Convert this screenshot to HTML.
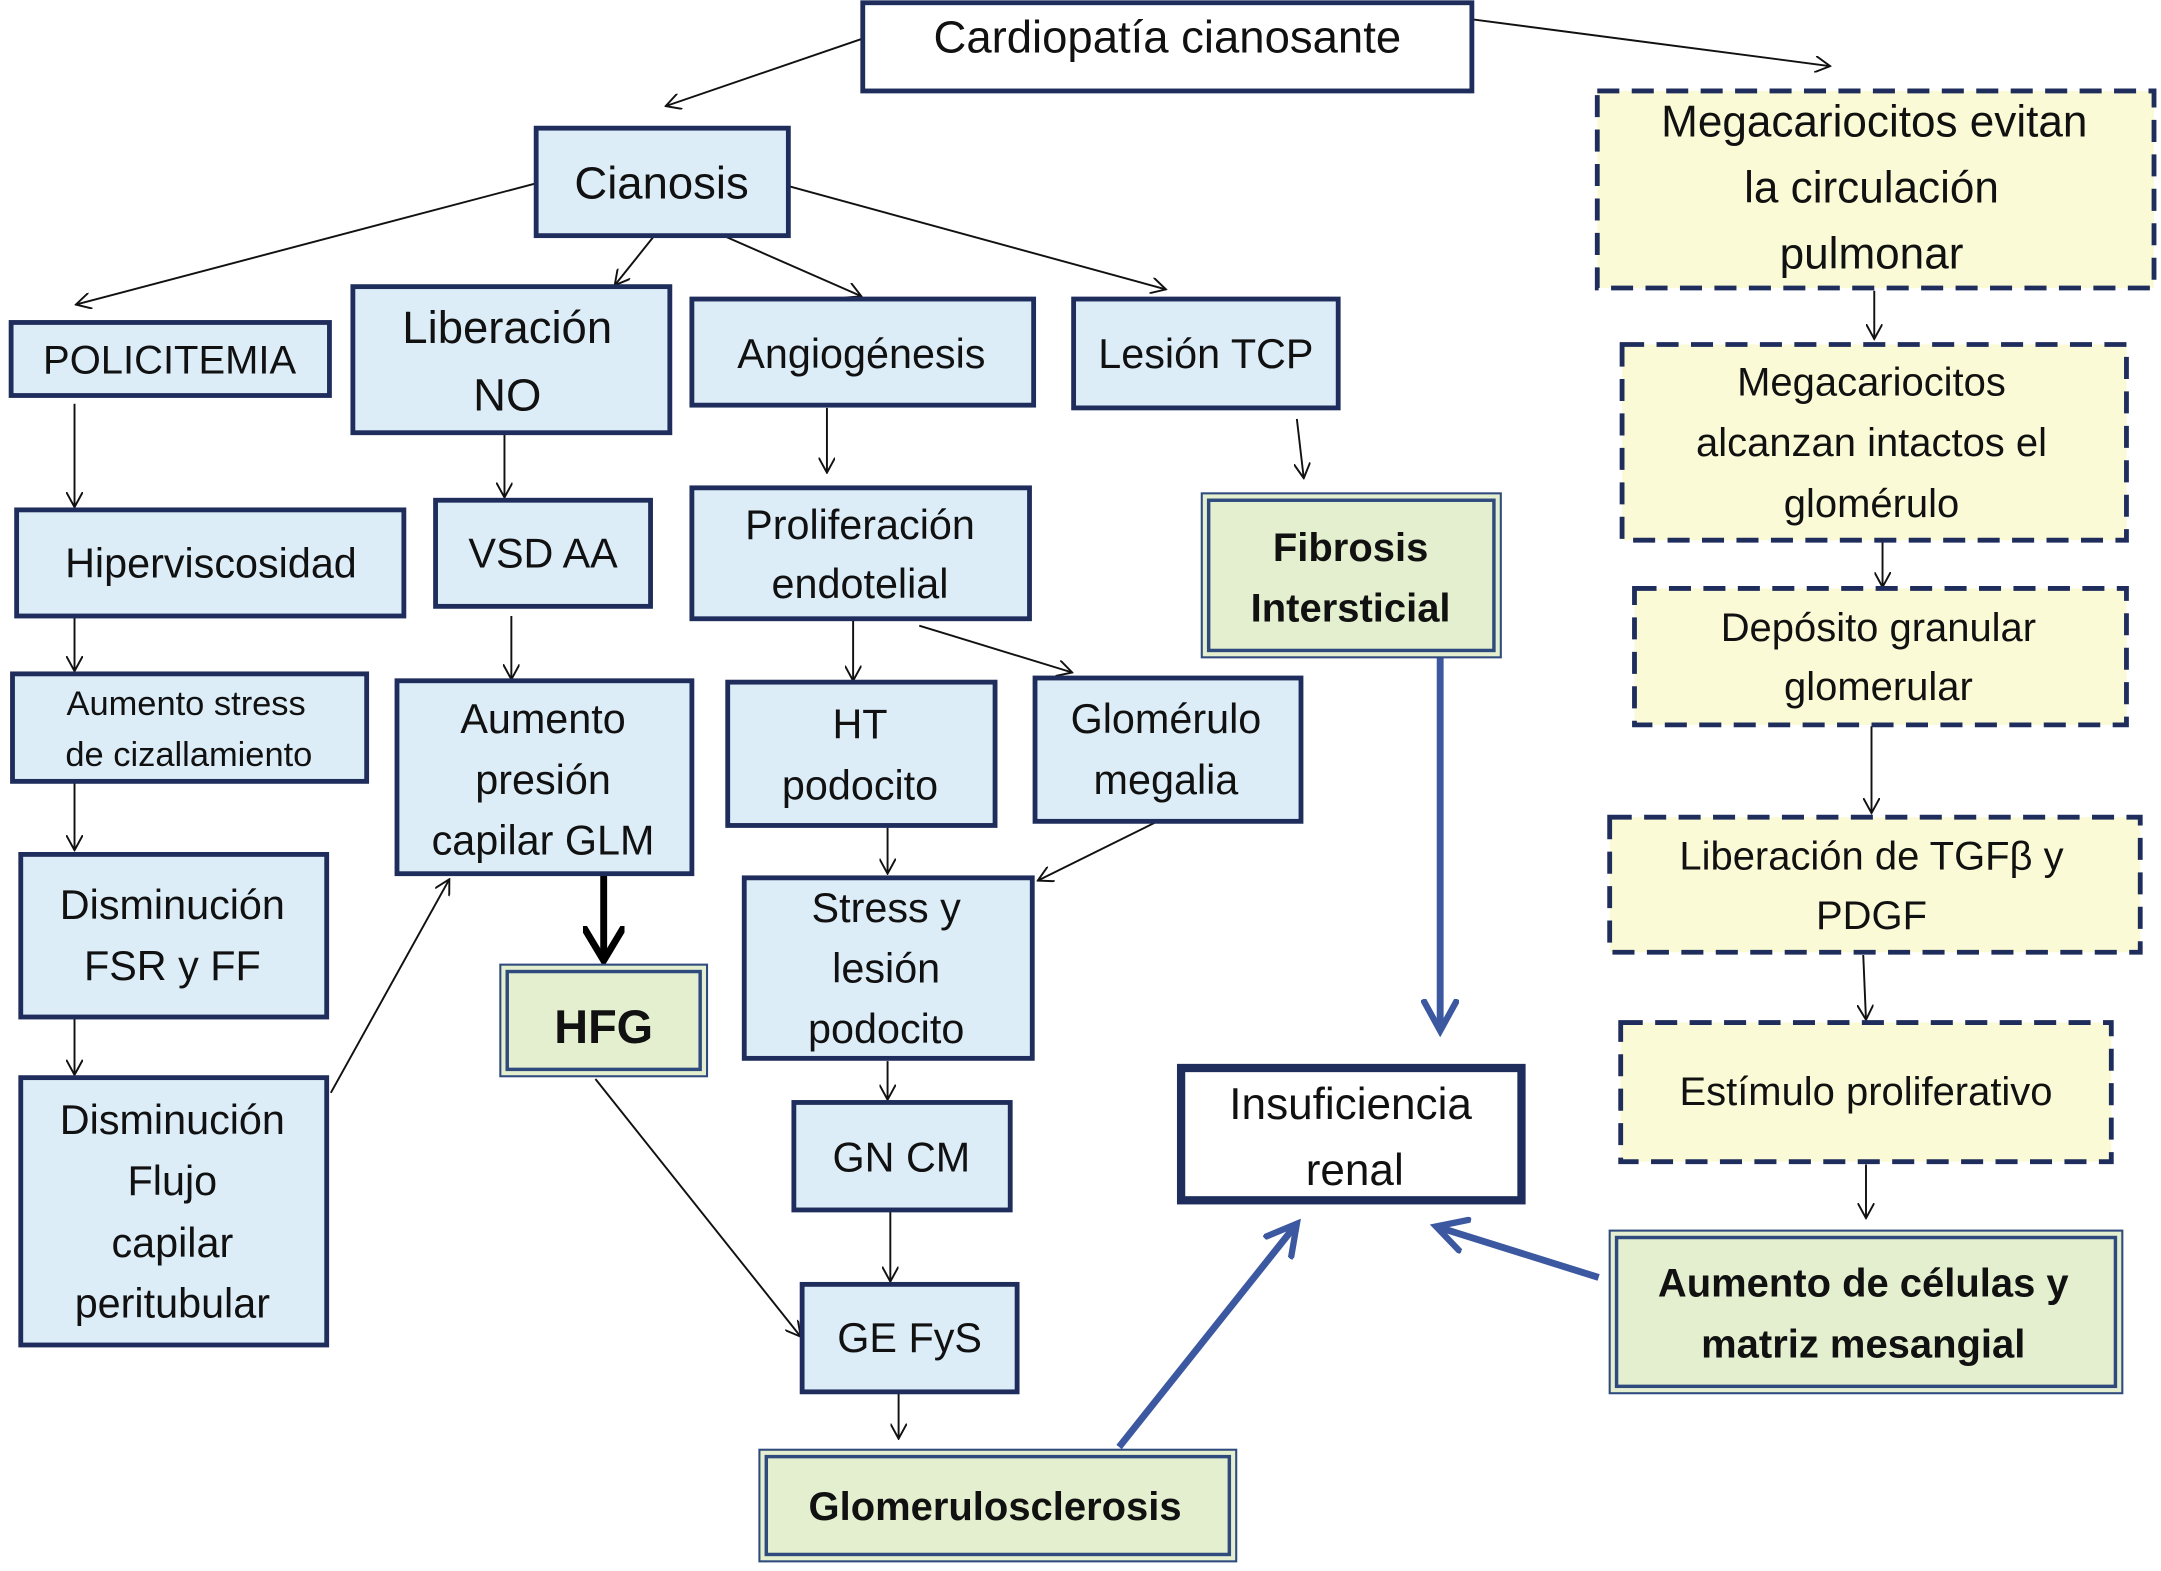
<!DOCTYPE html>
<html><head><meta charset="utf-8"><style>
html,body{margin:0;padding:0;background:#fff;}
svg{display:block;}
text{font-family:"Liberation Sans Narrow","Liberation Sans",sans-serif;fill:#111;text-anchor:middle;}
.b{fill:#dcedf8;stroke:#1f2d5c;stroke-width:3.5;}
.w{fill:#fff;stroke:#1f2d5c;stroke-width:3.5;}
.g{fill:#e3efcf;stroke:#2f4a7c;stroke-width:1.5;}
.y{fill:#fafad6;stroke:#1f2d5c;stroke-width:3.5;stroke-dasharray:16,9;}
.a{stroke:#111;stroke-width:1.4;fill:none;marker-end:url(#m);}
.bl{stroke:#3c58a0;stroke-width:5;fill:none;marker-end:url(#mb);}
.bt{font-weight:bold;}
</style></head><body>
<svg width="2161" height="1571" viewBox="0 0 1568 1140" xmlns="http://www.w3.org/2000/svg">
<defs>
<marker id="m" viewBox="0 0 12 12" refX="11" refY="6" markerWidth="12" markerHeight="12" markerUnits="userSpaceOnUse" orient="auto"><path d="M0,0 L11,6 L0,12" fill="none" stroke="#111" stroke-width="1.4"/></marker>
<marker id="mk" viewBox="0 0 12 12" refX="10" refY="6" markerWidth="6" markerHeight="6" orient="auto"><path d="M0,0 L10,6 L0,12" fill="none" stroke="#000" stroke-width="2"/></marker>
<marker id="mb" viewBox="0 0 12 12" refX="10" refY="6" markerWidth="5.5" markerHeight="5.5" orient="auto"><path d="M0,0.5 L10,6 L0,11.5" fill="none" stroke="#3c58a0" stroke-width="2"/></marker>
</defs>
<line class="a" x1="626" y1="28" x2="483" y2="77"/>
<line class="a" x1="1068" y1="14" x2="1328" y2="48"/>
<line class="a" x1="389" y1="133" x2="55" y2="221"/>
<line class="a" x1="474" y1="172" x2="446" y2="207"/>
<line class="a" x1="527" y1="172" x2="625" y2="215"/>
<line class="a" x1="572" y1="135" x2="846" y2="210"/>
<line class="a" x1="54" y1="293" x2="54" y2="368"/>
<line class="a" x1="366" y1="314" x2="366" y2="361"/>
<line class="a" x1="600" y1="296" x2="600" y2="343"/>
<line class="a" x1="941" y1="304" x2="946" y2="347"/>
<line class="a" x1="54" y1="447" x2="54" y2="487"/>
<line class="a" x1="371" y1="447" x2="371" y2="493"/>
<line class="a" x1="619" y1="449" x2="619" y2="494"/>
<line class="a" x1="667" y1="454" x2="778" y2="488"/>
<line class="a" x1="54" y1="567" x2="54" y2="617"/>
<line class="a" x1="54" y1="732" x2="54" y2="780"/>
<line class="a" x1="240" y1="793" x2="326" y2="638"/>
<line x1="438" y1="634" x2="438" y2="697" stroke="#000" stroke-width="5" marker-end="url(#mk)"/>
<line class="a" x1="644" y1="600" x2="644" y2="634"/>
<line class="a" x1="846" y1="593" x2="753" y2="639"/>
<line class="a" x1="644" y1="770" x2="644" y2="798"/>
<line class="a" x1="646" y1="878" x2="646" y2="930"/>
<line class="a" x1="432" y1="783" x2="581" y2="970"/>
<line class="a" x1="652" y1="1010" x2="652" y2="1044"/>
<line class="a" x1="1360" y1="211" x2="1360" y2="246"/>
<line class="a" x1="1366" y1="392" x2="1366" y2="426"/>
<line class="a" x1="1358" y1="527" x2="1358" y2="590"/>
<line class="a" x1="1352" y1="693" x2="1354" y2="740"/>
<line class="a" x1="1354" y1="845" x2="1354" y2="884"/>
<line class="bl" x1="1045" y1="477" x2="1045" y2="748"/>
<line class="bl" x1="812" y1="1050" x2="941" y2="888"/>
<line class="bl" x1="1160" y1="927" x2="1042" y2="890"/>

<rect class="w" x="626" y="2" width="442" height="64"/>
<text x="847" y="38" font-size="33">Cardiopatía  cianosante</text>

<rect class="b" x="389" y="93" width="183" height="78"/>
<text x="480" y="144" font-size="33">Cianosis</text>

<rect class="b" x="8" y="234" width="231" height="53"/>
<text x="123" y="271" font-size="29">POLICITEMIA</text>

<rect class="b" x="256" y="208" width="230" height="106"/>
<text x="368" y="249" font-size="33">Liberación</text>
<text x="368" y="298" font-size="33">NO</text>

<rect class="b" x="502" y="217" width="248" height="77"/>
<text x="625" y="267" font-size="30">Angiogénesis</text>

<rect class="b" x="779" y="217" width="192" height="79"/>
<text x="875" y="267" font-size="30">Lesión TCP</text>

<rect class="b" x="12" y="370" width="281" height="77"/>
<text x="153" y="419" font-size="30">Hiperviscosidad</text>

<rect class="b" x="316" y="363" width="156" height="77"/>
<text x="394" y="412" font-size="30">VSD AA</text>

<rect class="b" x="502" y="354" width="245" height="95"/>
<text x="624" y="391" font-size="30">Proliferación</text>
<text x="624" y="434" font-size="30">endotelial</text>

<rect class="g" x="872" y="358" width="217" height="119"/>
<rect x="877" y="363" width="207" height="109" fill="none" stroke="#2f4a7c" stroke-width="2.5"/>
<text class="bt" x="980" y="407" font-size="29">Fibrosis</text>
<text class="bt" x="980" y="451" font-size="29">Intersticial</text>

<rect class="b" x="9" y="489" width="257" height="78"/>
<text x="135" y="519" font-size="25">Aumento stress</text>
<text x="137" y="556" font-size="25">de  cizallamiento</text>

<rect class="b" x="288" y="494" width="214" height="140"/>
<text x="394" y="532" font-size="30">Aumento</text>
<text x="394" y="576" font-size="30">presión</text>
<text x="394" y="620" font-size="30">capilar GLM</text>

<rect class="b" x="528" y="495" width="194" height="104"/>
<text x="624" y="536" font-size="30">HT</text>
<text x="624" y="580" font-size="30">podocito</text>

<rect class="b" x="751" y="492" width="193" height="104"/>
<text x="846" y="532" font-size="30">Glomérulo</text>
<text x="846" y="576" font-size="30">megalia</text>

<rect class="b" x="15" y="620" width="222" height="118"/>
<text x="125" y="667" font-size="30">Disminución</text>
<text x="125" y="711" font-size="30">FSR y FF</text>

<rect class="g" x="363" y="700" width="150" height="81"/>
<rect x="368" y="705" width="140" height="71" fill="none" stroke="#2f4a7c" stroke-width="2.5"/>
<text class="bt" x="438" y="757" font-size="34">HFG</text>

<rect class="b" x="540" y="637" width="209" height="131"/>
<text x="643" y="669" font-size="30">Stress  y</text>
<text x="643" y="713" font-size="30">lesión</text>
<text x="643" y="757" font-size="30">podocito</text>

<rect class="b" x="15" y="782" width="222" height="194"/>
<text x="125" y="823" font-size="30">Disminución</text>
<text x="125" y="867" font-size="30">Flujo</text>
<text x="125" y="912" font-size="30">capilar</text>
<text x="125" y="956" font-size="30">peritubular</text>

<rect class="b" x="576" y="800" width="157" height="78"/>
<text x="654" y="850" font-size="30">GN CM</text>

<rect class="b" x="582" y="932" width="156" height="78"/>
<text x="660" y="981" font-size="30">GE FyS</text>

<rect class="g" x="551" y="1052" width="346" height="81"/>
<rect x="556" y="1057" width="336" height="71" fill="none" stroke="#2f4a7c" stroke-width="2.5"/>
<text class="bt" x="722" y="1103" font-size="29">Glomerulosclerosis</text>

<rect x="857" y="775" width="247" height="96" fill="#fff" stroke="#1f2d5c" stroke-width="6"/>
<text x="980" y="812" font-size="32">Insuficiencia</text>
<text x="983" y="860" font-size="32">renal</text>

<rect class="g" x="1168" y="893" width="372" height="118"/>
<rect x="1173" y="898" width="362" height="108" fill="none" stroke="#2f4a7c" stroke-width="2.5"/>
<text class="bt" x="1352" y="941" font-size="29">Aumento de células y</text>
<text class="bt" x="1352" y="985" font-size="29">matriz mesangial</text>

<rect class="y" x="1159" y="66" width="404" height="143"/>
<text x="1360" y="99" font-size="32">Megacariocitos evitan</text>
<text x="1358" y="147" font-size="32">la circulación</text>
<text x="1358" y="195" font-size="32">pulmonar</text>

<rect class="y" x="1177" y="250" width="366" height="142"/>
<text x="1358" y="287" font-size="29">Megacariocitos</text>
<text x="1358" y="331" font-size="29">alcanzan intactos el</text>
<text x="1358" y="375" font-size="29">glomérulo</text>

<rect class="y" x="1186" y="427" width="357" height="99"/>
<text x="1363" y="465" font-size="29">Depósito granular</text>
<text x="1363" y="508" font-size="29">glomerular</text>

<rect class="y" x="1168" y="593" width="385" height="98"/>
<text x="1358" y="631" font-size="29">Liberación de TGFβ y</text>
<text x="1358" y="674" font-size="29">PDGF</text>

<rect class="y" x="1176" y="742" width="356" height="101"/>
<text x="1354" y="802" font-size="29">Estímulo proliferativo</text>
</svg>
</body></html>
